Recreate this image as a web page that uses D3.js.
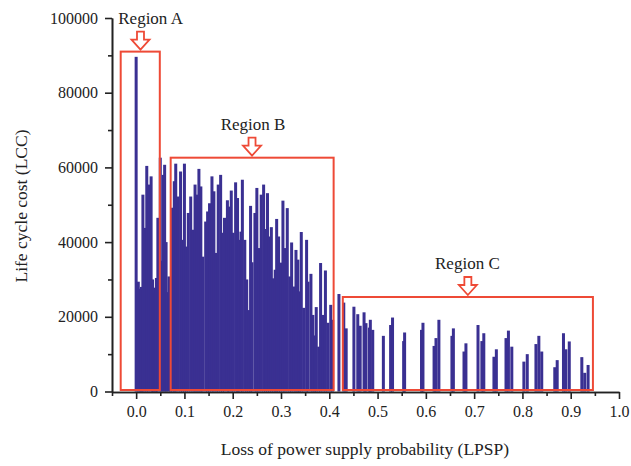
<!DOCTYPE html>
<html>
<head>
<meta charset="utf-8">
<style>
  body { margin: 0; background: #fff; }
  text { font-family: "Liberation Serif", "Times New Roman", serif; fill: #222; }
</style>
<script src="https://cdn.jsdelivr.net/npm/d3@7/dist/d3.min.js"></script>
</head>
<body>
<svg id="chart"></svg>
<script>
// LPSP values (x) and life cycle cost (y)
let lpsp = [
  0.000, 0.0045, 0.008, 0.011, 0.014, 0.018, 0.022, 0.026, 0.031, 0.034,
  0.036, 0.040, 0.042, 0.045, 0.050, 0.053, 0.056, 0.059, 0.062, 0.064,
  0.068, 0.071, 0.075, 0.079, 0.082, 0.087, 0.092, 0.096, 0.100, 0.104,
  0.108, 0.113, 0.118, 0.122, 0.126, 0.130, 0.134, 0.138, 0.144, 0.148,
  0.152, 0.157, 0.161, 0.166, 0.170, 0.175, 0.179, 0.183, 0.189, 0.192,
  0.197, 0.201, 0.206, 0.210, 0.212, 0.217, 0.220, 0.225, 0.229, 0.233,
  0.237, 0.240, 0.246, 0.250, 0.254, 0.259, 0.264, 0.268, 0.272, 0.276,
  0.280, 0.284, 0.288, 0.291, 0.295, 0.299, 0.304, 0.308, 0.313, 0.318,
  0.322, 0.327, 0.331, 0.335, 0.338, 0.342, 0.347, 0.353, 0.356, 0.362,
  0.366, 0.370, 0.373, 0.378, 0.382, 0.387, 0.392, 0.397, 0.403, 0.407,
  0.420, 0.430, 0.435, 0.451, 0.459, 0.464, 0.472, 0.476, 0.483, 0.485,
  0.490, 0.512, 0.527, 0.531, 0.554, 0.556, 0.591, 0.594, 0.617, 0.621,
  0.627, 0.654, 0.657, 0.679, 0.683, 0.708, 0.716, 0.720, 0.741, 0.746,
  0.766, 0.771, 0.778, 0.803, 0.810, 0.828, 0.834, 0.840, 0.867, 0.872,
  0.885, 0.890, 0.897, 0.923, 0.929, 0.936
]
let lcc = [
  89600, 29400, 27500, 28000, 52700, 43800, 60400, 55400, 57600, 30000,
  27800, 26500, 30400, 46500, 62600, 35000, 58000, 60700, 40000, 26600,
  30800, 25000, 49200, 56300, 61000, 52200, 58900, 40600, 61000, 38800,
  47800, 52200, 43300, 55400, 52700, 59600, 54900, 36100, 45500, 48200,
  50400, 57600, 53600, 37100, 55400, 58000, 42500, 46500, 51200, 49500,
  53800, 42500, 56000, 51800, 40600, 42800, 56700, 40600, 30000, 21800,
  49700, 34600, 47800, 54500, 38400, 52700, 55400, 43500, 53100, 41500,
  44000, 30300, 32600, 46200, 41500, 34500, 51100, 38400, 49100, 30800,
  39900, 28100, 37900, 35300, 26800, 42700, 22400, 40600, 29400, 31500,
  20500, 15000, 22600, 12000, 34400, 20500, 32400, 18400, 23200, 19200,
  26100, 23800, 16900, 22700, 20700, 17600, 21200, 18300, 17100, 19200,
  16500, 14900, 17800, 19800, 13500, 15800, 16500, 18400, 12200, 14300,
  19200, 14900, 16900, 10700, 12900, 17800, 13500, 15600, 9300, 11300,
  14300, 16300, 12000, 8000, 10000, 12700, 14900, 10700, 6500, 8400,
  15600, 11300, 13400, 9200, 5000, 7100
]

let xTicks = [0.0, 0.1, 0.2, 0.3, 0.4, 0.5, 0.6, 0.7, 0.8, 0.9, 1.0]
let yTicks = [0, 20000, 40000, 60000, 80000, 100000]

// highlighted regions: [x0, x1] and top value
let regionNames = ['Region A', 'Region B', 'Region C']
let regionX0 = [-0.032, 0.0715, 0.428]
let regionX1 = [0.049, 0.409, 0.946]
let regionTop = [91000, 62600, 25300]
let arrowX = [0.009, 0.240, 0.687]
let labelX = [0.030, 0.242, 0.686]

let width = 631,
    height = 466

let svg = d3.select('#chart')
    .attr('width', width)
    .attr('height', height)

let x = d3.scaleLinear().domain([-0.05, 1.0]).range([112, 619])
let y = d3.scaleLinear().domain([0, 100000]).range([391.5, 18])

let barColor = '#3a3092'
let red = '#ee4a36'

// bars
svg.append('g')
  .selectAll('rect')
  .data(lpsp)
  .enter()
  .append('rect')
    .attr('x', function(d) { return x(d) - 1.5 })
    .attr('width', 3)
    .attr('y', function(d, i) { return y(lcc[i]) })
    .attr('height', function(d, i) { return y(0) - y(lcc[i]) })
    .attr('fill', barColor)

// axes
let xAxis = svg.append('g')
    .attr('transform', 'translate(0,' + 392 + ')')
    .call(d3.axisBottom(x).tickValues(xTicks).tickFormat(d3.format('.1f')).tickSize(7).tickSizeOuter(0))
xAxis.append('g')
    .call(d3.axisBottom(x).tickValues(d3.range(-0.05, 1.0, 0.1)).tickFormat('').tickSize(4).tickSizeOuter(0))

let yAxis = svg.append('g')
    .attr('transform', 'translate(112,0)')
    .call(d3.axisLeft(y).tickValues(yTicks).tickFormat(d3.format('d')).tickSize(7).tickSizeOuter(0))
yAxis.append('g')
    .call(d3.axisLeft(y).tickValues(d3.range(10000, 100000, 20000)).tickFormat('').tickSize(4).tickSizeOuter(0))

svg.selectAll('.domain').attr('stroke', '#222').attr('stroke-width', 1.6)
svg.selectAll('.tick line').attr('stroke', '#222').attr('stroke-width', 1.6)
svg.selectAll('.tick text')
    .attr('font-family', '"Liberation Serif", serif')
    .attr('font-size', 16)
    .attr('fill', '#222')
xAxis.selectAll('.tick text').attr('dy', '1.05em').attr('y', 8)
yAxis.selectAll('.tick text').attr('x', -14)

// axis titles
svg.append('text')
    .attr('x', 365)
    .attr('y', 455)
    .attr('text-anchor', 'middle')
    .attr('font-size', 17.5)
    .text('Loss of power supply probability (LPSP)')

svg.append('text')
    .attr('transform', 'translate(27,206) rotate(-90)')
    .attr('text-anchor', 'middle')
    .attr('font-size', 17.5)
    .text('Life cycle cost (LCC)')

// region boxes, arrows, labels
let ann = svg.append('g')

ann.selectAll('rect.box')
  .data(regionNames)
  .enter()
  .append('rect')
    .attr('class', 'box')
    .attr('x', function(d, i) { return x(regionX0[i]) })
    .attr('y', function(d, i) { return y(regionTop[i]) })
    .attr('width', function(d, i) { return x(regionX1[i]) - x(regionX0[i]) })
    .attr('height', function(d, i) { return 390 - y(regionTop[i]) })
    .attr('fill', 'none')
    .attr('stroke', red)
    .attr('stroke-width', 2)

// hollow down arrow, tip at (0,0)
let arrowPath = 'M-3.5,-18 L3.5,-18 L3.5,-10 L9,-10 L0,0 L-9,-10 L-3.5,-10 Z'

ann.selectAll('path.arrow')
  .data(regionNames)
  .enter()
  .append('path')
    .attr('class', 'arrow')
    .attr('transform', function(d, i) { return 'translate(' + x(arrowX[i]) + ',' + (y(regionTop[i]) - 2) + ')' })
    .attr('d', arrowPath)
    .attr('fill', '#fff')
    .attr('stroke', red)
    .attr('stroke-width', 1.8)
    .attr('stroke-linejoin', 'miter')

ann.selectAll('text.label')
  .data(regionNames)
  .enter()
  .append('text')
    .attr('class', 'label')
    .attr('x', function(d, i) { return x(labelX[i]) })
    .attr('y', function(d, i) { return y(regionTop[i]) - 28 })
    .attr('text-anchor', 'middle')
    .attr('font-size', 17)
    .text(function(d) { return d })
</script>
</body>
</html>
